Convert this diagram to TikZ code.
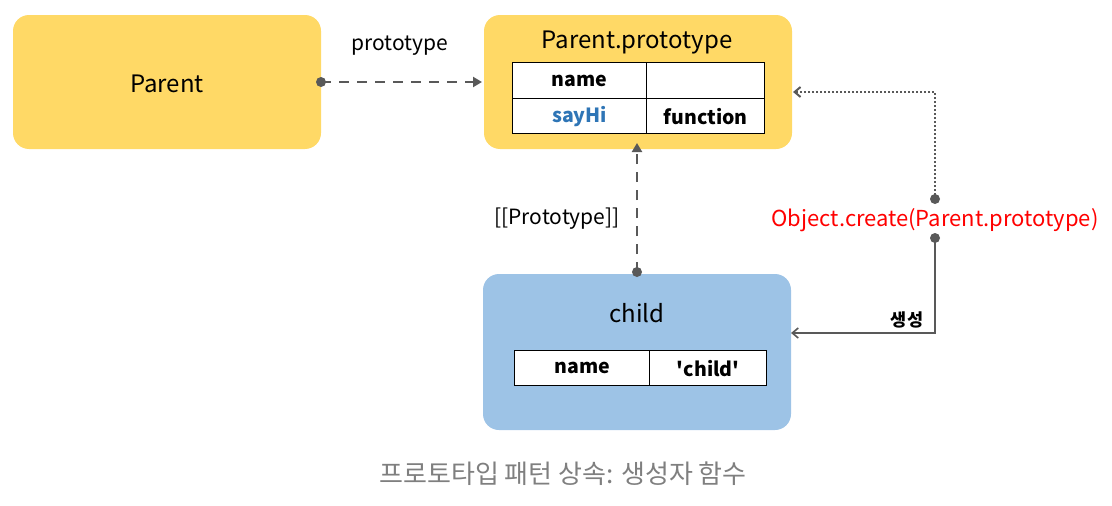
\documentclass[tikz,border=0pt]{standalone}
\usepackage{fontspec}
\setmainfont{Noto Sans CJK KR}
\usetikzlibrary{arrows.meta}
\definecolor{ylw}{HTML}{FFD966}
\definecolor{blu}{HTML}{9DC3E6}
\definecolor{arr}{HTML}{595959}
\definecolor{keyblue}{HTML}{2E75B6}
\definecolor{capgray}{HTML}{7F7F7F}
\tikzset{
  objbox/.style={rounded corners=16pt, draw=none},
  cell/.style={draw=black, line width=1.3pt, fill=white, inner sep=0pt, font=\fontsize{19.5}{22}\selectfont\bfseries},
  conn/.style={draw=arr, line width=2.6pt},
  dotend/.style={fill=arr, draw=none},
  lbl/.style={font=\fontsize{21}{25}\selectfont, inner sep=0pt},
  ttl/.style={font=\fontsize{24}{28}\selectfont, inner sep=0pt},
}
\begin{document}
\begin{tikzpicture}[x=1pt,y=-1pt]
\useasboundingbox (0,0) rectangle (1112,506);
% boxes
\fill[ylw, objbox] (13,15) rectangle (321,149);
\node[ttl] (parent) at (167,84) {Parent};
\coordinate (parentR) at (321,82);
\fill[ylw, objbox] (484,15) rectangle (792,149);
\node[ttl] (ptitle) at (637,43) {Parent.prototype};
\coordinate (protoL) at (482,82);
\coordinate (protoB) at (637,143);
\coordinate (protoR) at (793,92);
% proto table
\node[cell, minimum width=134pt, minimum height=36pt, anchor=north west] (c11) at (512,62) {name};
\node[cell, minimum width=118pt, minimum height=36pt, anchor=north west] (c12) at (646,62) {};
\node[cell, minimum width=134pt, minimum height=35pt, anchor=north west, text=keyblue] (c21) at (512,98) {sayHi};
\node[cell, minimum width=118pt, minimum height=35pt, anchor=north west] (c22) at (646,98) {function};
% child box
\fill[blu, objbox] (483,274) rectangle (791,430);
\node[ttl] (child) at (637,313) {child};
\coordinate (childT) at (637,272);
\coordinate (childR) at (791,333);
\node[cell, minimum width=135pt, minimum height=35pt, anchor=north west] (d11) at (514,350) {name};
\node[cell, minimum width=117pt, minimum height=35pt, anchor=north west] (d12) at (649,350) {\textquotesingle child\textquotesingle};
% connectors
\draw[conn, dash pattern=on 10pt off 8pt, -{Triangle[length=9pt,width=10pt]}] (parentR) -- (protoL);
\fill[dotend] (parentR) circle (5pt);
\node[lbl] (plabel) at (400,46) {prototype};
\draw[conn, dash pattern=on 10pt off 8pt, -{Triangle[length=9pt,width=10pt]}] (childT) -- (protoB);
\fill[dotend] (childT) circle (5pt);
\node[lbl] (plabel2) at (557,219) {[[Prototype]]};
\node[font=\fontsize{22}{26}\selectfont, text=red, inner sep=0pt] (oc) at (935,220) {Object.create(Parent.prototype)};
\coordinate (ocT) at (935,199);
\coordinate (ocB) at (935,238);
\draw[draw=arr, line width=2pt, dash pattern=on 2pt off 2pt, -{Straight Barb[length=6pt,width=10pt]}] (ocT) -- (935,92) -- (protoR);
\fill[dotend] (ocT) circle (5pt);
\draw[draw=arr, line width=1.6pt, -{Straight Barb[length=6pt,width=10pt]}] (ocB) -- (935,333) -- (childR);
\fill[dotend] (ocB) circle (5pt);
\node[font=\fontsize{17.5}{20}\selectfont\bfseries, inner sep=0pt] (mk) at (907,320) {생성};
\node[font=\fontsize{26}{30}\selectfont, text=capgray, inner sep=0pt] (cap) at (563,474) {프로토타입 패턴 상속: 생성자 함수};
\end{tikzpicture}
\end{document}
